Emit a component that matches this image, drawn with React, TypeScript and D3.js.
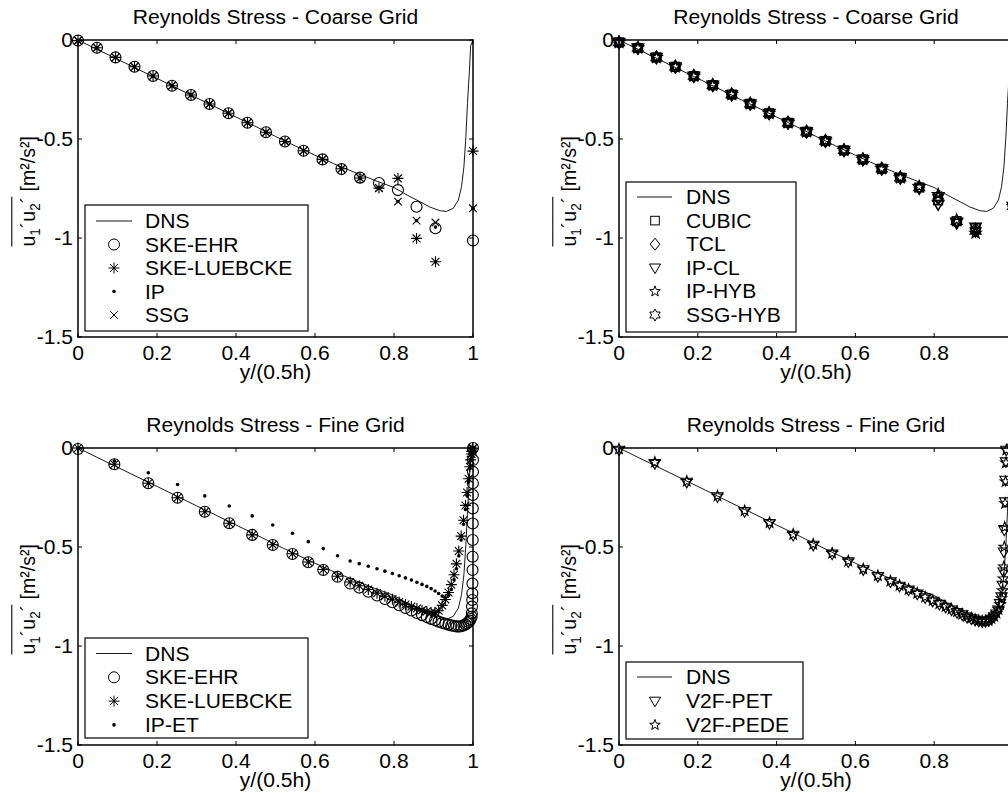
import React, { useLayoutEffect, useRef, useState } from 'react';
import * as d3 from 'd3';

type Pt = [number, number];
type MarkerType = 'o' | '*' | '.' | 'x' | 's' | 'd' | 'v' | 'p' | 'h';

const FONT = '"Liberation Sans", Arial, Helvetica, sans-serif';
const FS = 19.5;
const SX = 1.08;
const VIEW_W = 1008;

// ---------- axes ticks / texts ----------
const xTicks = [0, 0.2, 0.4, 0.6, 0.8, 1];
const xTickLabels = ['0', '0.2', '0.4', '0.6', '0.8', '1'];
const yTicks = [0, -0.5, -1, -1.5];
const yTickLabels = ['0', '-0.5', '-1', '-1.5'];
const titles = [
  'Reynolds Stress - Coarse Grid',
  'Reynolds Stress - Coarse Grid',
  'Reynolds Stress - Fine Grid',
  'Reynolds Stress - Fine Grid',
];
const xLabel = 'y/(0.5h)';

// ---------- DNS reference ----------
const dnsX = [0, 0.05, 0.1, 0.15, 0.2, 0.25, 0.3, 0.35, 0.4, 0.45, 0.5, 0.55, 0.6, 0.65, 0.7, 0.75, 0.8, 0.833, 0.866, 0.89, 0.916, 0.933, 0.95, 0.963, 0.971, 0.977, 0.982, 0.986, 0.991, 0.994, 1.0];
const dnsV = [0, -0.049, -0.097, -0.146, -0.194, -0.243, -0.292, -0.34, -0.389, -0.437, -0.487, -0.535, -0.582, -0.627, -0.668, -0.708, -0.745, -0.783, -0.817, -0.843, -0.862, -0.866, -0.85, -0.808, -0.741, -0.64, -0.488, -0.32, -0.152, -0.03, 0];

// ---------- coarse grid ----------
const coarseX = [0, 0.048, 0.095, 0.143, 0.19, 0.238, 0.286, 0.333, 0.381, 0.429, 0.476, 0.524, 0.571, 0.619, 0.667, 0.714, 0.762, 0.81, 0.857, 0.905, 1.0];
const ehrCoarse = [-0.003, -0.039, -0.088, -0.135, -0.182, -0.231, -0.278, -0.323, -0.37, -0.418, -0.466, -0.513, -0.559, -0.603, -0.652, -0.695, -0.722, -0.758, -0.842, -0.951, -1.013];
const luebckeCoarse = [-0.003, -0.039, -0.088, -0.135, -0.182, -0.231, -0.278, -0.323, -0.37, -0.418, -0.466, -0.513, -0.559, -0.603, -0.65, -0.697, -0.748, -0.699, -1.002, -1.12, -0.561];
const ipCoarse = [-0.003, -0.039, -0.088, -0.135, -0.182, -0.231, -0.278, -0.323, -0.37, -0.418, -0.466, -0.513, -0.559, -0.603, -0.65, -0.697, -0.748, -0.816, -0.912, -0.945, -0.85];
const ssgCoarse = [-0.003, -0.039, -0.088, -0.135, -0.182, -0.231, -0.278, -0.323, -0.37, -0.418, -0.466, -0.513, -0.559, -0.603, -0.65, -0.697, -0.748, -0.816, -0.912, -0.922, -0.85];

const cubicCoarse = [-0.012, -0.04, -0.088, -0.135, -0.182, -0.228, -0.275, -0.322, -0.37, -0.418, -0.463, -0.51, -0.557, -0.603, -0.65, -0.695, -0.745, -0.81, -0.915, -0.95, -0.84];
const tclCoarse = [-0.012, -0.04, -0.088, -0.135, -0.182, -0.228, -0.275, -0.322, -0.37, -0.418, -0.463, -0.51, -0.557, -0.603, -0.65, -0.695, -0.745, -0.8, -0.92, -0.955, -0.84];
const ipClCoarse = [-0.012, -0.04, -0.088, -0.135, -0.182, -0.228, -0.275, -0.322, -0.37, -0.418, -0.463, -0.51, -0.557, -0.603, -0.65, -0.695, -0.75, -0.83, -0.925, -0.945, -0.84];
const ipHybCoarse = [-0.012, -0.04, -0.088, -0.135, -0.182, -0.228, -0.275, -0.322, -0.37, -0.418, -0.463, -0.51, -0.557, -0.603, -0.65, -0.695, -0.74, -0.78, -0.91, -0.975, -0.84];
const ssgHybCoarse = [-0.012, -0.04, -0.088, -0.135, -0.182, -0.228, -0.275, -0.322, -0.37, -0.418, -0.463, -0.51, -0.557, -0.603, -0.65, -0.695, -0.745, -0.795, -0.915, -0.965, -0.84];

// ---------- fine grid ----------
const ehrFine: Pt[] = [[0, -0.005], [0.092, -0.082], [0.178, -0.178], [0.252, -0.251], [0.321, -0.322], [0.383, -0.38], [0.441, -0.439], [0.493, -0.49], [0.543, -0.535], [0.583, -0.577], [0.621, -0.616], [0.657, -0.65], [0.689, -0.684], [0.712, -0.705], [0.735, -0.726], [0.757, -0.745], [0.777, -0.763], [0.796, -0.779], [0.813, -0.794], [0.829, -0.808], [0.844, -0.821], [0.858, -0.833], [0.871, -0.844], [0.883, -0.854], [0.894, -0.863], [0.904, -0.87], [0.913, -0.877], [0.922, -0.883], [0.93, -0.888], [0.938, -0.892], [0.945, -0.896], [0.952, -0.899], [0.958, -0.901], [0.964, -0.902], [0.97, -0.9], [0.976, -0.896], [0.981, -0.891], [0.985, -0.885], [0.989, -0.879], [0.992, -0.872], [0.994, -0.864], [0.9965, -0.852], [0.997, -0.835], [0.9975, -0.801], [0.998, -0.768], [0.9983, -0.734], [0.9986, -0.684], [0.9988, -0.616], [0.999, -0.549], [0.9992, -0.465], [0.9994, -0.381], [0.9995, -0.305], [0.9996, -0.237], [0.9997, -0.178], [0.9998, -0.12], [0.9999, -0.06], [1, 0]];
const luebckeFine: Pt[] = [[0, 0], [0.092, -0.082], [0.178, -0.178], [0.252, -0.251], [0.321, -0.322], [0.383, -0.38], [0.441, -0.439], [0.493, -0.489], [0.543, -0.534], [0.583, -0.576], [0.621, -0.614], [0.657, -0.648], [0.689, -0.677], [0.712, -0.696], [0.735, -0.715], [0.757, -0.733], [0.777, -0.749], [0.796, -0.764], [0.813, -0.778], [0.829, -0.79], [0.844, -0.801], [0.858, -0.811], [0.871, -0.819], [0.883, -0.826], [0.894, -0.831], [0.904, -0.832], [0.913, -0.822], [0.922, -0.795], [0.93, -0.765], [0.938, -0.73], [0.945, -0.69], [0.952, -0.64], [0.958, -0.585], [0.964, -0.52], [0.97, -0.445], [0.976, -0.365], [0.981, -0.29], [0.985, -0.225], [0.989, -0.155], [0.992, -0.095], [0.994, -0.06], [0.996, -0.03], [0.997, -0.018], [0.998, -0.01], [0.999, -0.004], [1, 0]];
const ipEtFine: Pt[] = [[0, 0], [0.092, -0.066], [0.178, -0.125], [0.252, -0.184], [0.321, -0.242], [0.383, -0.293], [0.441, -0.343], [0.493, -0.389], [0.543, -0.431], [0.583, -0.473], [0.621, -0.508], [0.657, -0.544], [0.689, -0.571], [0.712, -0.584], [0.735, -0.597], [0.757, -0.61], [0.777, -0.622], [0.796, -0.634], [0.813, -0.645], [0.829, -0.656], [0.844, -0.667], [0.858, -0.678], [0.871, -0.689], [0.883, -0.699], [0.894, -0.71], [0.904, -0.722], [0.913, -0.735], [0.922, -0.748], [0.93, -0.755], [0.938, -0.745], [0.945, -0.715], [0.952, -0.665], [0.958, -0.61], [0.964, -0.545], [0.97, -0.465], [0.976, -0.385], [0.981, -0.31], [0.985, -0.24], [0.989, -0.17], [0.992, -0.105], [0.994, -0.065], [0.996, -0.035], [0.998, -0.012], [1, 0]];
const v2fPetFine: Pt[] = [[0, -0.01], [0.091, -0.077], [0.172, -0.172], [0.25, -0.246], [0.319, -0.32], [0.382, -0.38], [0.442, -0.44], [0.493, -0.49], [0.541, -0.535], [0.582, -0.574], [0.62, -0.614], [0.657, -0.648], [0.689, -0.675], [0.712, -0.697], [0.735, -0.717], [0.757, -0.737], [0.777, -0.756], [0.796, -0.773], [0.813, -0.789], [0.829, -0.803], [0.844, -0.817], [0.858, -0.83], [0.871, -0.842], [0.883, -0.853], [0.894, -0.862], [0.904, -0.869], [0.913, -0.874], [0.922, -0.877], [0.93, -0.876], [0.938, -0.872], [0.945, -0.864], [0.952, -0.852], [0.958, -0.837], [0.963, -0.818], [0.967, -0.785], [0.971, -0.751], [0.974, -0.692], [0.976, -0.625], [0.977, -0.524], [0.978, -0.414], [0.98, -0.271], [0.981, -0.162], [0.982, -0.069], [0.983, -0.01], [1, 0]];
const v2fPedeFine: Pt[] = [[0, -0.005], [0.091, -0.072], [0.172, -0.168], [0.25, -0.242], [0.319, -0.317], [0.382, -0.377], [0.442, -0.436], [0.493, -0.486], [0.541, -0.531], [0.582, -0.571], [0.62, -0.611], [0.657, -0.645], [0.689, -0.672], [0.712, -0.694], [0.735, -0.714], [0.757, -0.734], [0.777, -0.753], [0.796, -0.77], [0.813, -0.786], [0.829, -0.8], [0.844, -0.814], [0.858, -0.827], [0.871, -0.839], [0.883, -0.85], [0.894, -0.859], [0.904, -0.866], [0.913, -0.871], [0.922, -0.874], [0.93, -0.873], [0.938, -0.869], [0.945, -0.861], [0.952, -0.849], [0.958, -0.834], [0.963, -0.815], [0.967, -0.79], [0.971, -0.76], [0.974, -0.72], [0.976, -0.66], [0.977, -0.6], [0.978, -0.5], [0.979, -0.4], [0.98, -0.28], [0.981, -0.17], [0.982, -0.075], [0.983, -0.01], [1, 0]];

// ---------- helpers ----------
const zipPts = (xs: number[], vs: number[]): Pt[] => xs.map((x, i) => [x, vs[i]] as Pt);

interface Series { name: string; kind: 'line' | MarkerType; data: Pt[]; }
interface LegendLayout { bx: number; by: number; bw: number; bh: number; row0: number; dy: number; l0: number; l1: number; mx: number; tx: number; }
interface PanelDef { x0: number; x1: number; y0: number; y1: number; title: string; series: Series[]; legend: LegendLayout; mw: number; }

const dnsSeries: Series = { name: 'DNS', kind: 'line', data: zipPts(dnsX, dnsV) };

const panels: PanelDef[] = [
  {
    x0: 78, x1: 473, y0: 40, y1: 337, title: titles[0], mw: 1.1,
    series: [
      dnsSeries,
      { name: 'SKE-EHR', kind: 'o', data: zipPts(coarseX, ehrCoarse) },
      { name: 'SKE-LUEBCKE', kind: '*', data: zipPts(coarseX, luebckeCoarse) },
      { name: 'IP', kind: '.', data: zipPts(coarseX, ipCoarse) },
      { name: 'SSG', kind: 'x', data: zipPts(coarseX, ssgCoarse) },
    ],
    legend: { bx: 85, by: 205, bw: 223, bh: 126, row0: 221, dy: 23.5, l0: 96, l1: 132, mx: 114, tx: 145 },
  },
  {
    x0: 619, x1: 1013, y0: 40, y1: 337, title: titles[1], mw: 1.5,
    series: [
      dnsSeries,
      { name: 'CUBIC', kind: 's', data: zipPts(coarseX, cubicCoarse) },
      { name: 'TCL', kind: 'd', data: zipPts(coarseX, tclCoarse) },
      { name: 'IP-CL', kind: 'v', data: zipPts(coarseX, ipClCoarse) },
      { name: 'IP-HYB', kind: 'p', data: zipPts(coarseX, ipHybCoarse) },
      { name: 'SSG-HYB', kind: 'h', data: zipPts(coarseX, ssgHybCoarse) },
    ],
    legend: { bx: 626, by: 182, bw: 170, bh: 150, row0: 197, dy: 23.6, l0: 637, l1: 672, mx: 655, tx: 686 },
  },
  {
    x0: 78, x1: 473, y0: 448, y1: 745, title: titles[2], mw: 1.1,
    series: [
      dnsSeries,
      { name: 'SKE-EHR', kind: 'o', data: ehrFine },
      { name: 'SKE-LUEBCKE', kind: '*', data: luebckeFine },
      { name: 'IP-ET', kind: '.', data: ipEtFine },
    ],
    legend: { bx: 85, by: 638, bw: 223, bh: 100, row0: 653.5, dy: 23.8, l0: 96, l1: 132, mx: 114, tx: 145 },
  },
  {
    x0: 619, x1: 1013, y0: 448, y1: 745, title: titles[3], mw: 1.1,
    series: [
      dnsSeries,
      { name: 'V2F-PET', kind: 'v', data: v2fPetFine },
      { name: 'V2F-PEDE', kind: 'p', data: v2fPedeFine },
    ],
    legend: { bx: 626, by: 662, bw: 177, bh: 77, row0: 677, dy: 24, l0: 637, l1: 672, mx: 655, tx: 686 },
  },
];

// ---------- drawing ----------
function starPath(cx: number, cy: number, n: number, ro: number, ri: number): string {
  const pts: string[] = [];
  for (let k = 0; k < 2 * n; k++) {
    const a = -Math.PI / 2 + (k * Math.PI) / n;
    const r = k % 2 === 0 ? ro : ri;
    pts.push(`${(cx + r * Math.cos(a)).toFixed(2)},${(cy + r * Math.sin(a)).toFixed(2)}`);
  }
  return 'M' + pts.join('L') + 'Z';
}

function Marker({ t, cx, cy, w = 1 }: { t: MarkerType; cx: number; cy: number; w?: number }) {
  const st = { fill: 'none', stroke: '#000', strokeWidth: w } as const;
  switch (t) {
    case 'o':
      return <circle cx={cx} cy={cy} r={5.5} {...st} />;
    case '.':
      return <circle cx={cx} cy={cy} r={1.8} fill="#000" />;
    case '*': {
      const a = 5.5, b = 3.9;
      return <path d={`M${cx - a},${cy}H${cx + a}M${cx},${cy - a}V${cy + a}M${cx - b},${cy - b}L${cx + b},${cy + b}M${cx - b},${cy + b}L${cx + b},${cy - b}`} {...st} />;
    }
    case 'x': {
      const a = 3.8;
      return <path d={`M${cx - a},${cy - a}L${cx + a},${cy + a}M${cx - a},${cy + a}L${cx + a},${cy - a}`} {...st} />;
    }
    case 's':
      return <rect x={cx - 4.3} y={cy - 4.3} width={8.6} height={8.6} {...st} />;
    case 'd':
      return <path d={`M${cx},${cy - 6}L${cx + 4.8},${cy}L${cx},${cy + 6}L${cx - 4.8},${cy}Z`} {...st} />;
    case 'v':
      return <path d={`M${cx - 5.6},${cy - 3.8}L${cx + 5.6},${cy - 3.8}L${cx},${cy + 5.8}Z`} {...st} />;
    case 'p':
      return <path d={starPath(cx, cy, 5, 5.6, 2.3)} {...st} />;
    case 'h':
      return <path d={starPath(cx, cy, 6, 6, 3.4)} {...st} />;
  }
  return null;
}

function HText({ x, y, anchor, children }: { x: number; y: number; anchor: 'start' | 'middle' | 'end'; children: React.ReactNode }) {
  return (
    <text transform={`translate(${x},${y}) scale(${SX},1)`} textAnchor={anchor} fontSize={FS} fontFamily={FONT} fill="#000">
      {children}
    </text>
  );
}

function YLabel({ x, cy }: { x: number; cy: number }) {
  const refA = useRef<SVGTextElement>(null);
  const [wA, setWA] = useState(49);
  useLayoutEffect(() => {
    if (refA.current) setWA(refA.current.getComputedTextLength());
  }, []);
  const start = -58;
  return (
    <g transform={`translate(${x},${cy}) rotate(-90) scale(1,${SX})`} fontFamily={FONT} fill="#000">
      <text ref={refA} x={start} y={0} fontSize={FS}>
        u<tspan fontSize={13.5} dy={5}>1</tspan><tspan dy={-5}>´u</tspan><tspan fontSize={13.5} dy={5}>2</tspan><tspan dy={-5}>´</tspan>
      </text>
      <text x={start + wA} y={0} fontSize={FS} style={{ whiteSpace: 'pre' }}>{' [m²/s²]'}</text>
      <line x1={start} x2={start + wA} y1={-21.5} y2={-21.5} stroke="#000" strokeWidth={1} />
    </g>
  );
}

function Panel({ p }: { p: PanelDef }) {
  const xs = d3.scaleLinear().domain([0, 1]).range([p.x0, p.x1]);
  const ys = d3.scaleLinear().domain([0, -1.5]).range([p.y0, p.y1]);
  const line = d3.line<Pt>().x(d => xs(d[0])).y(d => ys(d[1]));
  const cxm = (p.x0 + p.x1) / 2;
  const lg = p.legend;
  return (
    <g>
      <HText x={cxm} y={p.y0 - 16} anchor="middle">{p.title}</HText>
      {p.series.map((s, si) =>
        s.kind === 'line' ? (
          <path key={si} d={line(s.data) || ''} fill="none" stroke="#000" strokeWidth={0.9} />
        ) : (
          <g key={si}>{s.data.map((d, i) => <Marker key={i} t={s.kind as MarkerType} cx={xs(d[0])} cy={ys(d[1])} w={p.mw} />)}</g>
        )
      )}
      <rect x={p.x0} y={p.y0} width={p.x1 - p.x0} height={p.y1 - p.y0} fill="none" stroke="#000" strokeWidth={1.5} />
      {xTicks.map((t, i) => (
        <g key={'xt' + i}>
          <line x1={xs(t)} x2={xs(t)} y1={p.y1} y2={p.y1 - 4} stroke="#000" strokeWidth={1} />
          <line x1={xs(t)} x2={xs(t)} y1={p.y0} y2={p.y0 + 4} stroke="#000" strokeWidth={1} />
          {xs(t) < VIEW_W ? <HText x={xs(t)} y={p.y1 + 23} anchor="middle">{xTickLabels[i]}</HText> : null}
        </g>
      ))}
      {yTicks.map((t, i) => (
        <g key={'yt' + i}>
          <line x1={p.x0} x2={p.x0 + 4} y1={ys(t)} y2={ys(t)} stroke="#000" strokeWidth={1} />
          <line x1={p.x1} x2={p.x1 - 4} y1={ys(t)} y2={ys(t)} stroke="#000" strokeWidth={1} />
          <HText x={p.x0 - 5} y={ys(t) + 7} anchor="end">{yTickLabels[i]}</HText>
        </g>
      ))}
      <HText x={cxm} y={p.y1 + 42} anchor="middle">{xLabel}</HText>
      <YLabel x={p.x0 - 43} cy={(p.y0 + p.y1) / 2} />
      <rect x={lg.bx} y={lg.by} width={lg.bw} height={lg.bh} fill="#fff" stroke="#000" strokeWidth={1.2} />
      {p.series.map((s, si) => {
        const ry = lg.row0 + si * lg.dy;
        return (
          <g key={'lg' + si}>
            {s.kind === 'line' ? (
              <line x1={lg.l0} x2={lg.l1} y1={ry} y2={ry} stroke="#000" strokeWidth={0.9} />
            ) : (
              <Marker t={s.kind as MarkerType} cx={lg.mx} cy={ry} w={1} />
            )}
            <HText x={lg.tx} y={ry + 7} anchor="start">{s.name}</HText>
          </g>
        );
      })}
    </g>
  );
}

export default function App() {
  return (
    <svg width={1008} height={796} style={{ position: 'absolute', left: 0, top: 0, background: '#fff' }}>
      <rect x={0} y={0} width={1008} height={796} fill="#fff" />
      {panels.map((p, i) => <Panel key={i} p={p} />)}
    </svg>
  );
}
